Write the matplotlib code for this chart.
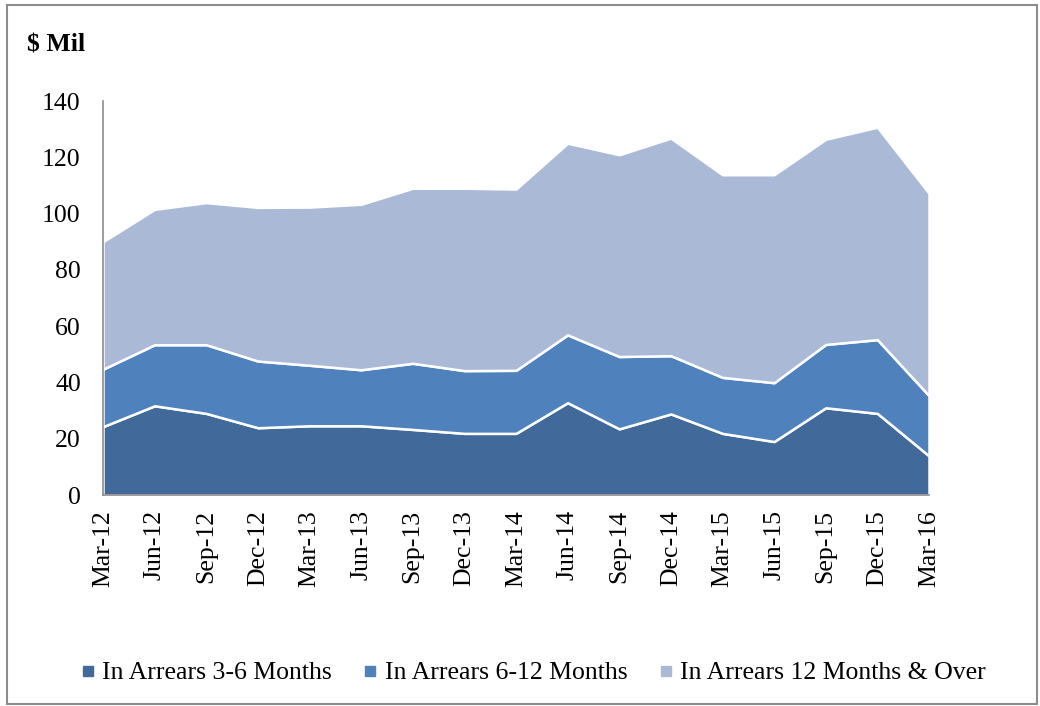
import numpy as np
import matplotlib.pyplot as plt
from matplotlib.lines import Line2D
from matplotlib.patches import Rectangle

# Data ($ Mil)
quarters = ["Mar-12", "Jun-12", "Sep-12", "Dec-12", "Mar-13", "Jun-13", "Sep-13", "Dec-13",
            "Mar-14", "Jun-14", "Sep-14", "Dec-14", "Mar-15", "Jun-15", "Sep-15", "Dec-15", "Mar-16"]
arrears_3_6 = [24.3, 31.7, 29.0, 23.9, 24.6, 24.6, 23.3, 21.9, 21.9, 32.8, 23.5, 28.8, 21.9, 19.0, 31.0, 29.0, 13.9]
arrears_6_12 = [20.4, 21.7, 24.4, 23.7, 21.5, 19.9, 23.5, 22.3, 22.4, 24.1, 25.7, 20.7, 19.9, 20.9, 22.5, 26.2, 21.4]
arrears_12_over = [45.3, 48.1, 50.5, 54.6, 56.2, 58.8, 62.2, 64.8, 64.4, 68.1, 71.7, 77.3, 72.0, 73.9, 72.9, 75.5, 71.9]
labels = ["In Arrears 3-6 Months", "In Arrears 6-12 Months", "In Arrears 12 Months & Over"]
colors = ["#416A9B", "#4F81BD", "#AAB9D6"]

plt.rcParams['font.family'] = ['Liberation Serif', 'DejaVu Serif']
FS = 18.5

fig = plt.figure(figsize=(10.4, 7.06), dpi=100)
ax = fig.add_axes([103 / 1040, 1 - 495 / 706, 826 / 1040, 394 / 706])

x = np.arange(len(quarters))
ax.stackplot(x, arrears_3_6, arrears_6_12, arrears_12_over, colors=colors,
             edgecolor="white", linewidth=1.8)

ax.set_xlim(0, len(quarters) - 1)
ax.set_ylim(0, 140)
ax.set_yticks(range(0, 141, 20))
ax.set_xticks(x)
ax.set_xticklabels(quarters, rotation=90, fontsize=FS)
ax.tick_params(axis="y", labelsize=FS, length=0, pad=16)
ax.tick_params(axis="x", length=0, pad=11)

for s in ["top", "right"]:
    ax.spines[s].set_visible(False)
for s in ["left", "bottom"]:
    ax.spines[s].set_color("#8C8C8C")
    ax.spines[s].set_linewidth(1.2)

fig.text(27 / 1040, 1 - 45 / 706, "$ Mil", fontsize=FS, fontweight="bold", va="center")

handles = [Line2D([], [], marker="s", linestyle="none", markersize=7, color=c) for c in colors]
fig.legend(handles, labels, loc="center", bbox_to_anchor=(533 / 1040, 1 - 673 / 706), ncol=3,
           frameon=False, fontsize=FS, handletextpad=0.25, columnspacing=1.2, handlelength=0.6)

fig.patches.append(Rectangle((7 / 1040, 2 / 706), 1030 / 1040, 699 / 706, transform=fig.transFigure,
                             fill=False, edgecolor="#8C8C8C", linewidth=1.5))

fig.savefig("out.png", dpi=100)
